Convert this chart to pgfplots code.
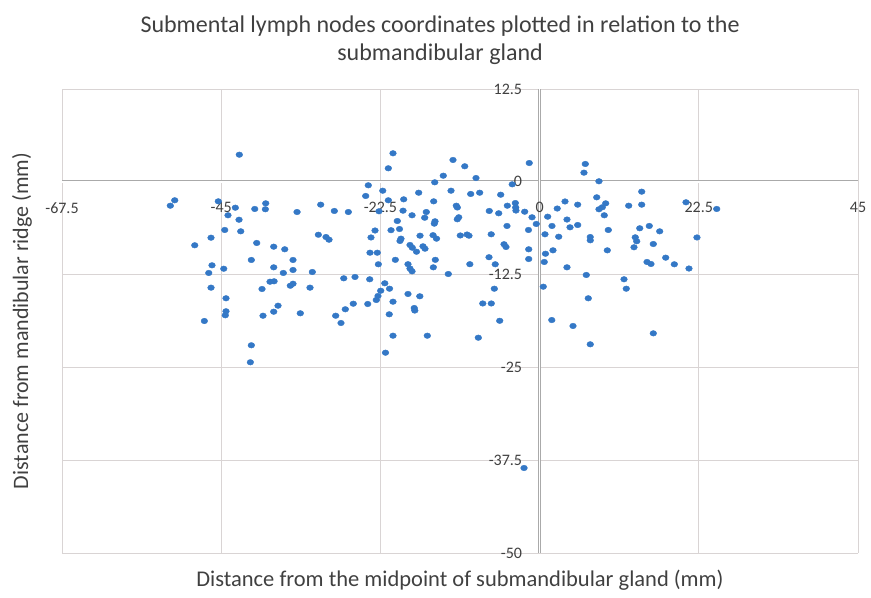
\documentclass[border=0pt]{standalone}
\usepackage{fontspec}
\setmainfont{Carlito}
\usepackage{pgfplots}
\pgfplotsset{compat=1.18}
\definecolor{ptc}{RGB}{52,120,198}
\definecolor{gridc}{RGB}{217,212,212}
\definecolor{axc}{RGB}{170,170,170}
\definecolor{txtc}{RGB}{64,64,64}
\begin{document}
\begin{tikzpicture}
\begin{axis}[
  width=796pt, height=464pt, scale only axis,
  xmin=-67.5, xmax=45, ymin=-50, ymax=12.5,
  enlargelimits=false,
  axis lines=middle,
  axis line style={-, draw=axc, line width=0.7pt, double=white, double distance=1.6pt},
  xtick={-67.5,-45,-22.5,0,22.5,45},
  xticklabels={-67.5,-45,-22.5,0,22.5,45},
  ytick={-50,-37.5,-25,-12.5,0,12.5},
  yticklabels={-50,-37.5,-25,-12.5,0,12.5},
  major tick length=0pt,
  grid=major,
  major grid style={draw=gridc, line width=0.8pt},
  xticklabel style={font=\fontsize{16}{16}\selectfont, text=txtc, anchor=north, yshift=-17pt},
  yticklabel style={font=\fontsize{16}{16}\selectfont, text=txtc, anchor=east, xshift=-14pt},
  title={Submental lymph nodes coordinates plotted in relation to the\\submandibular gland},
  title style={align=center, font=\fontsize{24}{28}\selectfont, text=txtc, at={(axis description cs:0.475,1)}, anchor=center, yshift=43pt},
  xlabel={Distance from the midpoint of submandibular gland (mm)},
  xlabel style={font=\fontsize{22.5}{22.5}\selectfont, text=txtc, at={(axis description cs:0.5,-0.0582)}, anchor=center},
  ylabel={Distance from mandibular ridge (mm)},
  ylabel style={font=\fontsize{22}{22}\selectfont, text=txtc, at={(axis description cs:-0.0503,0.5)}, rotate=90, anchor=center},
]
\addplot[only marks, mark=*, mark size=2.8pt, mark options={xscale=1.2, draw=ptc, fill=ptc}] table {
x y
-42.44 3.65
-51.57 -2.49
-52.19 -3.22
-45.41 -2.63
-43.00 -3.49
-44.04 -4.51
-42.48 -5.11
-40.26 -3.66
-38.71 -2.90
-38.76 -3.70
-34.28 -4.07
-30.94 -3.08
-29.01 -3.93
-27.03 -4.07
-44.50 -6.49
-42.24 -6.67
-46.44 -7.53
-48.74 -8.55
-39.98 -8.24
-37.58 -8.74
-36.02 -9.09
-31.27 -7.13
-30.19 -7.44
-29.76 -7.80
-40.74 -10.53
-34.85 -10.53
-46.30 -11.25
-44.64 -11.71
-46.76 -12.28
-37.58 -11.52
-36.22 -12.28
-34.85 -11.88
-32.12 -12.15
-27.68 -13.00
-26.09 -12.82
-46.44 -14.26
-39.23 -14.44
-38.10 -13.46
-37.53 -13.40
-35.23 -14.00
-34.85 -13.73
-32.45 -14.26
-44.32 -15.69
-36.97 -16.69
-37.58 -17.50
-44.32 -17.44
-44.42 -17.98
-33.82 -17.71
-39.09 -18.04
-47.38 -18.75
-28.82 -18.04
-27.46 -17.17
-26.33 -16.42
-28.07 -19.02
-40.74 -22.02
-40.88 -24.31
-20.72 3.84
-21.38 1.82
-12.24 2.94
-10.58 2.09
-8.99 0.51
-1.46 2.53
-13.61 0.82
-14.82 -0.07
-24.21 -0.47
-22.17 -1.20
-24.58 -1.91
-17.09 -1.47
-12.52 -1.20
-9.74 -1.64
-8.47 -1.47
-5.50 -1.74
-3.87 -0.34
-21.38 -2.49
-19.21 -2.36
-14.97 -2.63
-11.77 -3.22
-11.63 -3.46
-3.43 -2.86
-4.56 -3.22
-3.38 -3.46
-3.34 -3.87
-22.70 -3.97
-19.30 -3.89
-18.03 -4.51
-16.01 -4.07
-16.24 -4.84
-7.11 -3.93
-5.78 -4.24
-2.11 -4.03
-1.07 -4.78
-0.47 -5.68
-20.11 -5.28
-14.78 -5.32
-14.88 -5.64
-11.43 -4.78
-11.63 -5.05
-4.61 -5.95
-23.26 -6.56
-21.00 -6.52
-19.80 -6.36
-23.83 -7.50
-19.59 -7.66
-19.73 -7.97
-16.90 -7.26
-15.06 -7.19
-14.57 -7.66
-11.21 -7.23
-10.26 -7.10
-9.98 -7.26
-6.84 -7.07
-1.57 -6.49
-5.03 -8.41
-4.75 -8.78
-18.32 -8.51
-17.99 -8.88
-17.40 -9.42
-16.48 -8.69
-16.20 -9.01
-23.97 -9.55
-22.94 -9.55
-20.39 -10.51
-14.74 -10.51
-15.02 -11.52
-18.60 -11.10
-18.32 -11.68
-18.03 -12.06
-22.79 -11.11
-9.86 -11.10
-7.15 -10.16
-6.27 -11.11
-1.54 -9.09
-1.54 -10.40
-12.90 -12.42
-24.01 -13.13
-21.88 -13.67
-21.21 -14.40
-22.46 -14.67
-22.84 -15.38
-23.08 -15.92
-24.29 -16.46
-20.72 -16.15
-18.60 -15.11
-16.93 -15.42
-17.72 -17.00
-17.64 -17.34
-21.25 -17.85
-8.03 -16.39
-6.83 -16.39
-6.40 -14.40
-5.64 -18.72
-20.72 -20.73
-15.87 -20.73
-8.66 -21.00
-21.78 -23.02
-2.20 -38.55
6.46 2.40
6.27 1.23
8.39 0.07
1.14 -4.70
2.49 -3.60
3.59 -2.65
5.38 -3.08
3.87 -5.08
4.30 -6.13
5.38 -5.82
1.75 -5.95
0.76 -7.07
2.70 -7.40
1.89 -9.23
0.83 -9.69
0.66 -10.80
3.87 -11.52
8.07 -2.09
9.34 -2.90
8.86 -3.43
8.39 -3.70
9.14 -4.51
7.16 -7.44
7.16 -7.88
9.71 -6.49
9.57 -9.23
6.60 -12.55
6.88 -15.69
0.52 -14.13
1.72 -18.62
4.72 -19.42
7.16 -21.89
12.59 -3.22
14.43 -1.33
14.43 -3.08
14.15 -6.26
13.52 -7.48
13.72 -8.01
13.34 -8.82
15.50 -5.95
16.07 -8.38
16.97 -6.67
15.18 -10.80
15.74 -11.07
17.82 -10.22
19.04 -11.11
21.11 -11.68
20.69 -2.76
22.24 -7.50
11.93 -13.13
12.25 -14.40
16.07 -20.41
25.03 -3.66
};
\node[font=\fontsize{16}{16}\selectfont, text=txtc, anchor=north, yshift=-17pt] at (axis cs:0,0) {0};
\node[font=\fontsize{16}{16}\selectfont, text=txtc, anchor=east, xshift=-14pt] at (axis cs:0,0) {0};
\coordinate (sw) at (rel axis cs:0,0);
\coordinate (ne) at (rel axis cs:1,1);
\end{axis}
\path ([shift={(-62pt,-44pt)}]sw) rectangle ([shift={(13pt,89pt)}]ne);
\end{tikzpicture}
\end{document}
